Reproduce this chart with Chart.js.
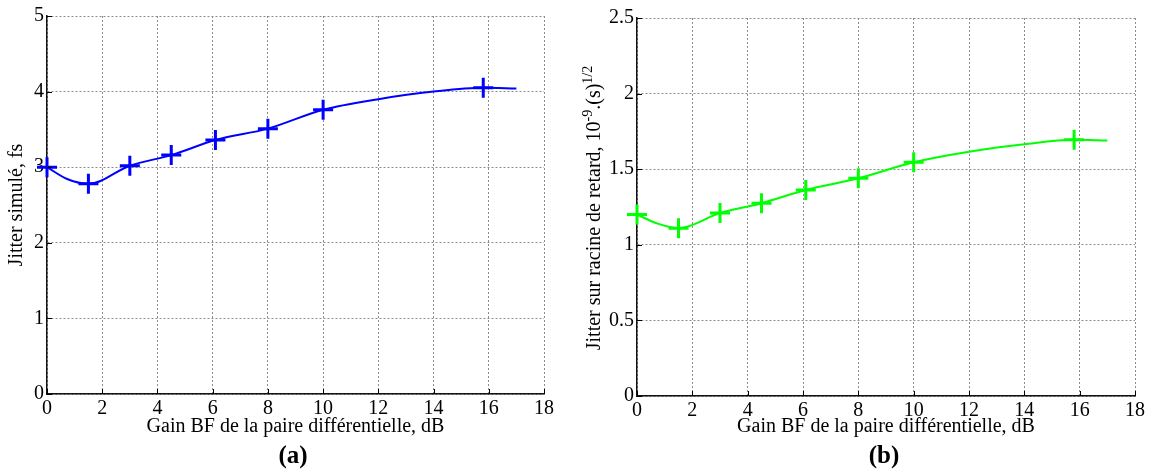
<!DOCTYPE html>
<html><head><meta charset="utf-8">
<script src="https://cdn.jsdelivr.net/npm/chart.js@4"></script>
<style>
body{margin:0;background:#fff;width:1149px;height:471px;overflow:hidden;position:relative;font-family:"Liberation Serif",serif;}
.panel{position:absolute;top:0;height:471px;}
.cap{position:absolute;font:bold 25px "Liberation Serif",serif;transform:translate(-50%,-50%);color:#000;}
</style></head><body>
<div class="panel" style="left:0;width:575px"><canvas id="ca"></canvas></div>
<div class="panel" style="left:575px;width:574px"><canvas id="cb"></canvas></div>
<div class="cap" style="left:293px;top:455px">(a)</div>
<div class="cap" style="left:884px;top:455px">(b)</div>
<script>
// ---- data ----
const markerGain = [0, 1.5, 3, 4.5, 6.1, 8, 10, 15.8];
const jitterA    = [3.0, 2.78, 3.02, 3.16, 3.36, 3.51, 3.76, 4.05];
const jitterB    = [1.2, 1.11, 1.21, 1.275, 1.363, 1.44, 1.546, 1.694];
const curveGain  = [0, 0.75, 1.5, 3, 4.5, 6.1, 8, 10, 12, 14, 15.8, 17];
const curveA     = [3.0, 2.84, 2.78, 3.02, 3.16, 3.36, 3.51, 3.76, 3.90, 4.0, 4.05, 4.04];
const curveB     = [1.2, 1.14, 1.11, 1.21, 1.275, 1.363, 1.44, 1.546, 1.616, 1.665, 1.694, 1.69];
const xTicks  = ['0','2','4','6','8','10','12','14','16','18'];
const yTicksA = ['0','1','2','3','4','5'];
const yTicksB = ['0','0.5','1','1.5','2','2.5'];
const xTitle  = 'Gain BF de la paire différentielle, dB';
const yTitleA = 'Jitter simulé, fs';
const yTitleB = [{t:'Jitter sur racine de retard, 10'},{t:'-9',sup:true},{t:'.(s)'},{t:'1/2',sup:true}];

Chart.defaults.font.family = '"Liberation Serif", serif';
Chart.defaults.font.size = 20;
Chart.defaults.color = '#000';

const pts = (xs, ys) => xs.map((x, i) => ({x, y: ys[i]}));

const inwardTicks = {
  id: 'inwardTicks',
  afterDraw(chart) {
    const ctx = chart.ctx, ca = chart.chartArea;
    const xs = chart.scales.x, ys = chart.scales.y;
    ctx.save();
    ctx.strokeStyle = '#000';
    ctx.lineWidth = 1;
    ctx.beginPath();
    xs.ticks.forEach(t => { const p = Math.round(xs.getPixelForValue(t.value)) + 0.5; ctx.moveTo(p, ca.bottom); ctx.lineTo(p, ca.bottom - 5); });
    ys.ticks.forEach(t => { const p = Math.round(ys.getPixelForValue(t.value)) + 0.5; ctx.moveTo(ca.left, p); ctx.lineTo(ca.left + 5, p); });
    ctx.stroke();
    ctx.restore();
  }
};

const supTitle = {
  id: 'supTitle',
  afterDraw(chart, args, opts) {
    if (!opts || !opts.segments) return;
    const ctx = chart.ctx, ca = chart.chartArea;
    ctx.save();
    ctx.translate(opts.x, (ca.top + ca.bottom) / 2 + (opts.dy || 0));
    ctx.rotate(-Math.PI / 2);
    ctx.fillStyle = '#000';
    ctx.textBaseline = 'middle';
    ctx.textAlign = 'left';
    const fonts = s => s.sup ? '14px "Liberation Serif", serif' : '20px "Liberation Serif", serif';
    let total = 0;
    const w = opts.segments.map(s => { ctx.font = fonts(s); const m = ctx.measureText(s.t).width; total += m; return m; });
    let x = -total / 2;
    opts.segments.forEach((s, i) => { ctx.font = fonts(s); ctx.fillText(s.t, x, s.sup ? -7 : 0); x += w[i]; });
    ctx.restore();
  }
};

function makeChart(id, color, curve, marks, yMax, yStep, yTicks, yWidth, pad, xHeight, yTitle) {
  return new Chart(document.getElementById(id), {
    type: 'line',
    data: {
      datasets: [
        { data: pts(curveGain, curve), borderColor: color, borderWidth: 2, pointRadius: 0,
          cubicInterpolationMode: 'monotone', fill: false, clip: false },
        { data: pts(markerGain, marks), showLine: false, pointStyle: 'cross', pointRadius: 10,
          pointBorderWidth: 3, borderColor: color, pointBorderColor: color, clip: false }
      ]
    },
    options: {
      responsive: true, maintainAspectRatio: false, animation: false,
      layout: { padding: pad },
      plugins: { legend: { display: false }, tooltip: { enabled: false },
        supTitle: yTitle.segments ? { segments: yTitle.segments, x: 20, dy: 1 } : {} },
      scales: {
        x: {
          type: 'linear', min: 0, max: 18,
          ticks: { stepSize: 2, padding: 3, maxRotation: 0, autoSkip: false,
                   callback: (v) => xTicks[Math.round(v / 2)] },
          grid: { color: '#8c8c8c', lineWidth: 1, drawTicks: false },
          border: { display: true, color: '#111', width: 1.5, dash: [2, 2] },
          title: { display: true, text: xTitle, padding: { top: 0, bottom: 32 } },
          afterFit: s => { s.height = xHeight; }
        },
        y: {
          type: 'linear', min: 0, max: yMax,
          ticks: { stepSize: yStep, padding: 3, autoSkip: false,
                   callback: (v) => yTicks[Math.round(v / yStep)] },
          grid: { color: '#8c8c8c', lineWidth: 1, drawTicks: false },
          border: { display: true, color: '#111', width: 1.5, dash: [2, 2] },
          title: yTitle.text ? { display: true, text: yTitle.text, padding: { top: 5, bottom: 0 } } : { display: false },
          afterFit: s => { s.width = yWidth; }
        }
      }
    },
    plugins: [inwardTicks, supTitle]
  });
}

makeChart('ca', '#0000ff', curveA, jitterA, 5, 1, yTicksA, 47,
  { left: 0, right: 31, top: 16, bottom: 0 }, 77, { text: yTitleA });
makeChart('cb', '#00ff00', curveB, jitterB, 2.5, 0.5, yTicksB, 62,
  { left: 0, right: 14, top: 18, bottom: 0 }, 75, { segments: yTitleB });
</script>
</body></html>
